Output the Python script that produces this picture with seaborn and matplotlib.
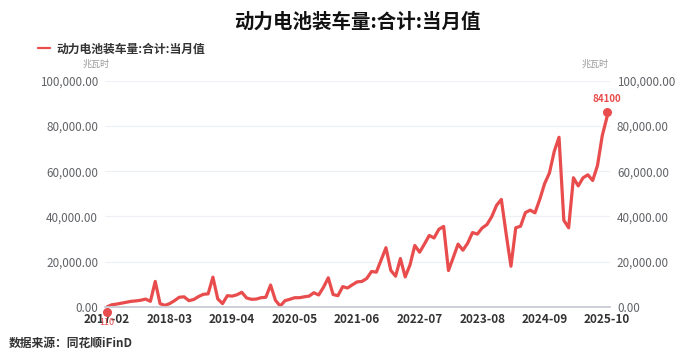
import numpy as np
import pandas as pd
import seaborn as sns
import matplotlib.pyplot as plt
import matplotlib.transforms as mtransforms

# 动力电池装车量:合计:当月值 (兆瓦时), 2017-02 ~ 2025-10
months = pd.period_range("2017-02", "2025-10", freq="M").strftime("%Y-%m").tolist()
v2017 = [110, 1000, 1300, 1700, 2100, 2500, 2700, 3000, 3500, 2500, 11300]
v2018 = [1500, 700, 1500, 2800, 4300, 4500, 2800, 3300, 4600, 5600, 5800, 13200]
v2019 = [3600, 1500, 5000, 4800, 5400, 6500, 4000, 3400, 3500, 4100, 4300, 9700]
v2020 = [3000, 400, 2800, 3400, 4100, 4100, 4500, 4800, 6300, 5300, 8700, 12900]
v2021 = [5500, 5000, 9000, 8400, 9800, 11100, 11300, 12600, 15700, 15400, 20800, 26200]
v2022 = [16200, 13600, 21400, 13300, 18600, 27200, 24200, 27800, 31600, 30500, 34300, 35600]
v2023 = [16100, 21900, 27800, 25100, 28200, 32900, 32200, 34900, 36400, 39900, 44900, 47500]
v2024 = [32300, 18000, 35000, 35700, 41700, 42800, 41600, 47600, 54500, 59200, 68700, 75000]
v2025 = [38300, 35000, 57100, 53500, 57100, 58400, 55900, 62500, 75800, 84100]
values = v2017 + v2018 + v2019 + v2020 + v2021 + v2022 + v2023 + v2024 + v2025

tick_labels = ["2017-02", "2018-03", "2019-04", "2020-05", "2021-06",
               "2022-07", "2023-08", "2024-09", "2025-10"]
y_ticks = [0, 20000, 40000, 60000, 80000, 100000]

series_name = "动力电池装车量:合计:当月值"
df = pd.DataFrame({"idx": np.arange(len(values)), "月份": months, "值": values})

red = "#e84c4c"
gray = "#606266"

sns.set_theme(style="white")
plt.rcParams["font.family"] = ["Noto Sans CJK SC", "DejaVu Sans"]

fig = plt.figure(figsize=(7, 3.61), dpi=100)
ax = fig.add_axes([0.15, 0.1496, 0.7214, 0.6269])

sns.lineplot(data=df, x="idx", y="值", ax=ax, color=red, linewidth=2.3,
             label=series_name, solid_joinstyle="round", solid_capstyle="round")

ax.set_xlim(-0.45, len(values) - 0.4)
ax.set_ylim(0, 100000)
tick_pos = [months.index(t) for t in tick_labels]
ax.set_xticks(tick_pos)
ax.set_xticklabels(tick_labels, fontsize=8.5, fontweight="bold", color="#333333")
ax.set_yticks(y_ticks)
ax.set_yticklabels([f"{v:,.2f}" for v in y_ticks], fontsize=8.4, color=gray)
ax.tick_params(axis="y", length=0, pad=5)
ax.tick_params(axis="x", length=0, pad=4)
ax.set_xlabel("")
ax.set_ylabel("")
ax.grid(axis="y", color="#eef0f5", linewidth=0.9)
for s in ["top", "right", "left"]:
    ax.spines[s].set_visible(False)
ax.spines["bottom"].set_color("#c9ccd4")
ax.spines["bottom"].set_linewidth(1.3)

ax2 = ax.twinx()
ax2.set_ylim(ax.get_ylim())
ax2.set_yticks(y_ticks)
ax2.set_yticklabels([f"{v:,.2f}" for v in y_ticks], fontsize=8.4, color=gray)
ax2.tick_params(axis="y", length=0, pad=5)
for s in ax2.spines.values():
    s.set_visible(False)
ax2.grid(False)

# min / max markers
down = mtransforms.offset_copy(ax.transData, fig=fig, x=0, y=-5, units="dots")
up = mtransforms.offset_copy(ax.transData, fig=fig, x=0, y=5, units="dots")
ax.scatter([0], [values[0]], s=30, color=red, transform=down, zorder=5, clip_on=False)
ax.scatter([len(values) - 1], [values[-1]], s=30, color=red, transform=up, zorder=5, clip_on=False)
ax.annotate(str(values[0]), (0, values[0]), xytext=(0, -8), textcoords="offset points",
            ha="center", va="top", fontsize=6.5, color=red, annotation_clip=False, zorder=6)
ax.annotate(str(values[-1]), (len(values) - 1, values[-1]), xytext=(0, 9),
            textcoords="offset points", ha="center", va="bottom", fontsize=7,
            fontweight="bold", color=red, annotation_clip=False)

leg = ax.legend(loc="upper left", bbox_to_anchor=(0.045, 0.9), bbox_transform=fig.transFigure,
                frameon=False, handlelength=0.8, handletextpad=0.45, borderaxespad=0)
for line in leg.get_lines():
    line.set_linewidth(1.6)
for t in leg.get_texts():
    t.set_fontsize(8.5)
    t.set_fontweight("bold")
    t.set_color("#333333")

fig.text(0.51, 0.94, series_name, ha="center", va="center", fontsize=14, fontweight="bold", color="#111111")
fig.text(0.137, 0.823, "兆瓦时", ha="center", va="center", fontsize=6.5, color="#999999")
fig.text(0.85, 0.823, "兆瓦时", ha="center", va="center", fontsize=6.5, color="#999999")
fig.text(0.012, 0.05, "数据来源：同花顺iFinD", ha="left", va="center", fontsize=8.5,
         fontweight="bold", color="#333333")

fig.savefig("out.png", dpi=100)
